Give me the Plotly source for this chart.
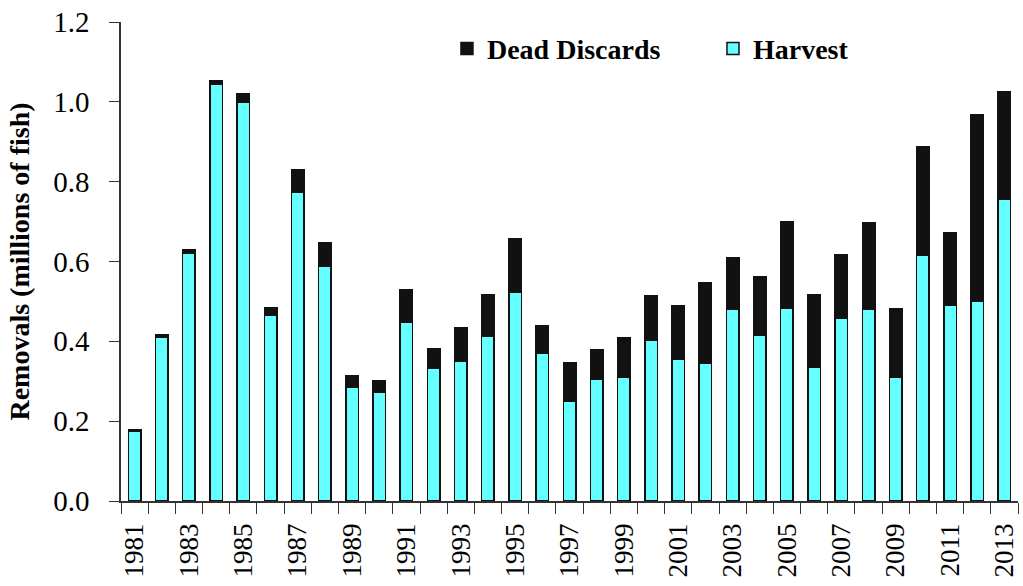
import plotly.graph_objects as go

years = list(range(1981, 2014))
harvest = [0.175, 0.410, 0.620, 1.044, 1.000, 0.466, 0.773, 0.587, 0.286, 0.273,
           0.447, 0.333, 0.349, 0.413, 0.524, 0.371, 0.250, 0.305, 0.311, 0.403,
           0.355, 0.345, 0.481, 0.416, 0.483, 0.336, 0.458, 0.481, 0.310, 0.615,
           0.490, 0.500, 0.756]
total = [0.178, 0.417, 0.629, 1.053, 1.020, 0.484, 0.831, 0.648, 0.314, 0.301,
         0.529, 0.382, 0.433, 0.517, 0.656, 0.440, 0.346, 0.378, 0.408, 0.514,
         0.488, 0.546, 0.610, 0.562, 0.700, 0.517, 0.617, 0.696, 0.482, 0.887,
         0.671, 0.967, 1.025]
dead_discards = [round(t - h, 3) for t, h in zip(total, harvest)]
label_years = [y for y in years if y % 2 == 1]
y_ticks = [0.0, 0.2, 0.4, 0.6, 0.8, 1.0, 1.2]

FONT = "Liberation Serif, Times New Roman, serif"

fig = go.Figure()
fig.add_trace(go.Bar(x=years, y=harvest, name="<b>Harvest</b>",
                     marker=dict(color="#66FFFF", line=dict(color="#111111", width=1.5)),
                     width=0.46, legendrank=2))
fig.add_trace(go.Bar(x=years, y=dead_discards, name="<b>Dead Discards</b>",
                     marker=dict(color="#111111", line=dict(color="#111111", width=1.5)),
                     width=0.46, legendrank=1))

fig.update_layout(
    barmode="stack",
    width=1023, height=586,
    margin=dict(l=121, r=5, t=22, b=85, autoexpand=False),
    paper_bgcolor="white", plot_bgcolor="white",
    font=dict(family=FONT, size=20, color="black"),
    legend=dict(orientation="h", x=0.3634, y=0.944, xanchor="left", yanchor="middle",
                traceorder="normal",
                font=dict(family=FONT, size=28, color="black"),
                bgcolor="rgba(0,0,0,0)", entrywidth=221),
    showlegend=True,
)
fig.update_xaxes(
    range=[1980.5, 2013.5], automargin=False,
    tickmode="array", tickvals=label_years, ticktext=[str(y) for y in label_years],
    tickangle=-90, ticks="", showgrid=False, zeroline=False,
    showline=True, linecolor="#333333", linewidth=1.5,
    ticklabelstandoff=10,
    tickfont=dict(family=FONT, size=27, color="black"),
    minor=dict(tickmode="linear", tick0=1980.5, dtick=1, ticks="outside",
               ticklen=11, tickcolor="#333333", tickwidth=1.2, showgrid=False),
)
fig.update_yaxes(
    range=[0, 1.2], tickmode="array", tickvals=y_ticks, automargin=False,
    ticktext=[f"{v:.1f}" for v in y_ticks],
    ticks="outside", ticklen=10, tickcolor="#333333", tickwidth=1.2,
    ticklabelstandoff=14,
    showgrid=False, zeroline=False,
    showline=True, linecolor="#333333", linewidth=1.5,
    tickfont=dict(family=FONT, size=29, color="black"),
    title=dict(text="<b>Removals (millions of fish)</b>",
               font=dict(family=FONT, size=28, color="black"), standoff=15),
)

fig.write_html("out.html", config={"displayModeBar": False},
               post_script="document.body.style.margin='0';")
